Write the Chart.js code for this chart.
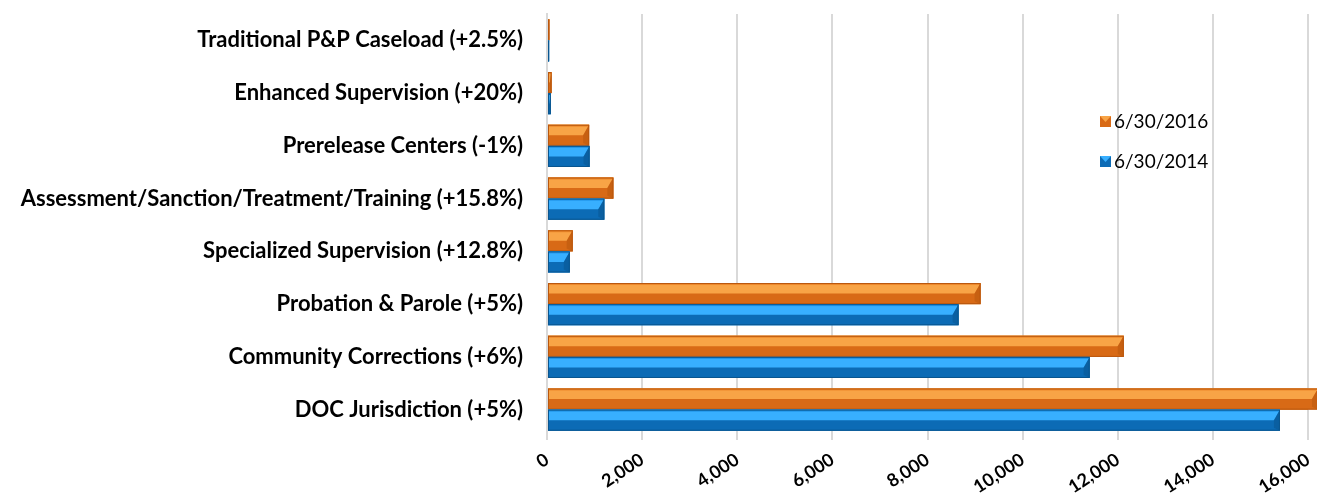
<!DOCTYPE html>
<html>
<head>
<meta charset="utf-8">
<script src="https://cdn.jsdelivr.net/npm/chart.js@4/dist/chart.umd.min.js"></script>
<style>
  html, body { margin: 0; padding: 0; background: #fff; }
  #wrap { width: 1317px; height: 500px; position: relative; }
</style>
</head>
<body>
<div id="wrap"><canvas id="chart"></canvas></div>
<script>
const categories = [
  'Traditional P&P Caseload (+2.5%)',
  'Enhanced Supervision (+20%)',
  'Prerelease Centers (-1%)',
  'Assessment/Sanction/Treatment/Training (+15.8%)',
  'Specialized Supervision (+12.8%)',
  'Probation & Parole (+5%)',
  'Community Corrections (+6%)',
  'DOC Jurisdiction (+5%)'
];
const seriesNames = ['6/30/2016', '6/30/2014'];
const values2016 = [50, 96, 886, 1395, 540, 9116, 12126, 16210];
const values2014 = [45, 80, 895, 1205, 479, 8653, 11410, 15410];
const xTicks = [0, 2000, 4000, 6000, 8000, 10000, 12000, 14000, 16000];

// light top / dark bottom / edge colours for the bevelled bars
const shades = [
  { light: '#F8A446', mid: '#EE8A2C', dark: '#D86A16', edge: '#B9570F' },
  { light: '#38AFFF', mid: '#1F93E8', dark: '#0C6BB5', edge: '#0A568F' }
];

const bevel = {
  id: 'bevel',
  afterDatasetsDraw(chart) {
    const ctx = chart.ctx;
    chart.data.datasets.forEach((ds, i) => {
      const s = shades[i];
      chart.getDatasetMeta(i).data.forEach(bar => {
        const p = bar.getProps(['x', 'y', 'base', 'height'], true);
        const top = p.y - p.height / 2, bot = p.y + p.height / 2;
        const l = p.base, r = p.x;
        const w = r - l;
        if (w <= 0) return;
        const e = Math.min(6, w / 2);
        ctx.save();
        ctx.fillStyle = s.dark;
        ctx.fillRect(l, top, w, p.height);
        ctx.fillStyle = s.light;
        ctx.beginPath();
        ctx.moveTo(l, top);
        ctx.lineTo(r, top);
        ctx.lineTo(r - e, p.y);
        ctx.lineTo(l, p.y);
        ctx.closePath();
        ctx.fill();
        ctx.fillStyle = s.mid;
        ctx.fillRect(l, top, w, 2);
        ctx.fillStyle = s.edge;
        ctx.beginPath();
        ctx.moveTo(r, top);
        ctx.lineTo(r, bot);
        ctx.lineTo(r - e, bot - 3);
        ctx.lineTo(r - e, p.y);
        ctx.closePath();
        ctx.globalAlpha = 0.55;
        ctx.fill();
        ctx.globalAlpha = 1;
        ctx.strokeStyle = s.edge;
        ctx.lineWidth = 1;
        ctx.strokeRect(l + 0.5, top + 0.5, Math.max(w - 1, 0), p.height - 1);
        ctx.restore();
      });
    });
  }
};

const sideLegend = {
  id: 'sideLegend',
  afterDraw(chart) {
    const ctx = chart.ctx;
    const x = chart.chartArea.right - 208;
    let y = 122;
    ctx.save();
    ctx.font = '19px Lato';
    ctx.textBaseline = 'middle';
    chart.data.datasets.forEach((ds, i) => {
      const s = shades[i];
      ctx.fillStyle = s.dark;
      ctx.fillRect(x, y - 6, 11, 11);
      ctx.fillStyle = s.light;
      ctx.beginPath();
      ctx.moveTo(x, y - 6);
      ctx.lineTo(x + 11, y - 6);
      ctx.lineTo(x + 5.5, y);
      ctx.closePath();
      ctx.fill();
      ctx.fillStyle = '#000';
      ctx.fillText(ds.label, x + 14, y);
      y += 40;
    });
    ctx.restore();
  }
};

new Chart(document.getElementById('chart'), {
  type: 'bar',
  data: {
    labels: categories,
    datasets: [
      { label: seriesNames[0], data: values2016, backgroundColor: shades[0].mid },
      { label: seriesNames[1], data: values2014, backgroundColor: shades[1].mid }
    ]
  },
  options: {
    indexAxis: 'y',
    responsive: true,
    maintainAspectRatio: false,
    animation: false,
    layout: { padding: { top: 14, right: 9, left: 0, bottom: 4 } },
    datasets: { bar: { categoryPercentage: 0.8, barPercentage: 1 } },
    plugins: {
      legend: { display: false },
      tooltip: { enabled: false }
    },
    scales: {
      x: {
        min: 0,
        max: 16000,
        afterBuildTicks: axis => { axis.ticks = xTicks.map(v => ({ value: v })); },
        afterFit: axis => {
          axis.height = 60;
          axis.paddingLeft = 0;
          axis.paddingRight = 0;
        },
        grid: { color: '#D9D9D9', lineWidth: 2, drawTicks: true, tickLength: 4 },
        border: { display: false },
        ticks: {
          minRotation: 33,
          maxRotation: 33,
          padding: 9,
          color: '#000',
          font: { family: 'Lato', weight: 'bold', size: 18 },
          callback: v => v.toLocaleString('en-US')
        }
      },
      y: {
        grid: { display: false },
        border: { color: '#D9D9D9', width: 2 },
        afterFit: axis => {
          axis.width = 547;
          axis.paddingTop = 0;
          axis.paddingBottom = 0;
        },
        ticks: {
          color: '#000',
          padding: 16,
          font: { family: 'Lato', weight: 'bold', size: 22 }
        }
      }
    }
  },
  plugins: [bevel, sideLegend]
});
</script>
</body>
</html>
